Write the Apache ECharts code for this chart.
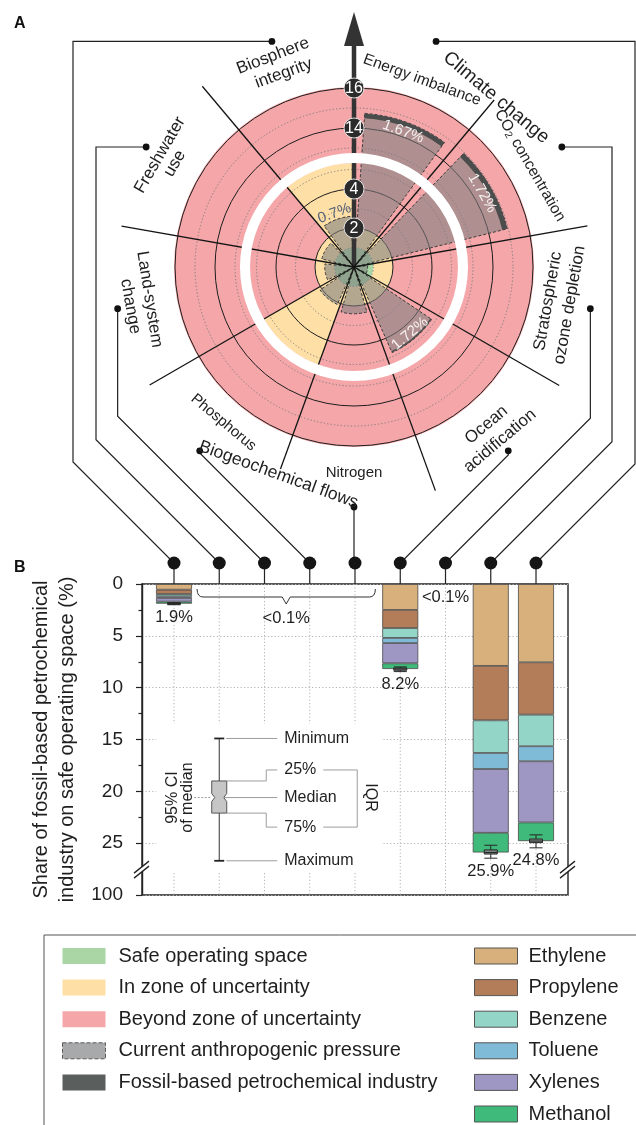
<!DOCTYPE html>
<html>
<head>
<meta charset="utf-8">
<title>Planetary boundaries and the fossil-based petrochemical industry</title>
<script src="https://cdn.jsdelivr.net/npm/echarts@6/dist/echarts.min.js"></script>
<style>
html,body{margin:0;padding:0;background:#ffffff;}
#chart{width:636px;height:1125px;}
</style>
</head>
<body>
<div id="chart"></div>
<script>
// ======================= DATA =======================
// Panel A: planetary-boundary sectors, clockwise from the top (degrees)
const sectorNames = ['Energy imbalance', 'CO2 concentration', 'Stratospheric ozone depletion',
  'Ocean acidification', 'Nitrogen', 'Phosphorus', 'Land-system change', 'Freshwater use',
  'Biosphere integrity'];
const sectorStart = [0, 40, 80, 120, 160, 200, 240, 280, 320];
const sectorWidth = 40;
// normalised control variable (1 = planetary boundary)
const safeLimit        = [1, 1, 1, 1, 1, 1, 1, 1, 1];
const uncertaintyLimit = [2, 2, 2, 2, 2, 5.33, 2, 2, 5.33];
const currentPressure  = [14.75, 14.95, 0.7, 4.8, 2.4, 2.1, 1.5, 1.7, 2.6];
const petroSharePct    = [1.67, 1.72, 0, 1.72, 0, 0, 0, 0, 0.7];
const pressureLabels   = ['1.67%', '1.72%', '', '1.72%', '', '', '', '', '0.7%'];
const radialTickValues = [2, 4, 14, 16];
const gridCircleValues = [1, 2, 3, 4, 5, 13, 14, 15, 16];
const gridCircleSolid  = [false, true, false, true, false, false, true, false, true];
const radialBreak      = [5.33, 12.75];   // hidden stretch of the radial scale
const radialMax        = 16.05;

// Panel B: share of fossil-based petrochemical industry on safe operating space (%)
const barCategories = ['Biosphere integrity', 'Freshwater use', 'Land-system change', 'Phosphorus',
  'Nitrogen', 'Ocean acidification', 'Stratospheric ozone depletion', 'CO2 concentration',
  'Energy imbalance'];
const chemNames = ['Ethylene', 'Propylene', 'Benzene', 'Toluene', 'Xylenes', 'Methanol'];
const ethylene  = [0.55, 0, 0, 0, 0, 2.50, 0, 7.90, 7.55];
const propylene = [0.42, 0, 0, 0, 0, 1.75, 0, 5.25, 5.05];
const benzene   = [0.22, 0, 0, 0, 0, 0.95, 0, 3.15, 3.05];
const toluene   = [0.16, 0, 0, 0, 0, 0.50, 0, 1.55, 1.45];
const xylenes   = [0.35, 0, 0, 0, 0, 1.95, 0, 6.15, 5.90];
const methanol  = [0.20, 0, 0, 0, 0, 0.55, 0, 1.90, 1.80];
// uncertainty of the totals: [min, Q1, median, Q3, max]
const uncertaintyBox = [[1.80, 1.85, 1.90, 1.95, 2.00], null, null, null, null,
  [8.00, 8.10, 8.20, 8.32, 8.45], null,
  [25.20, 25.65, 25.90, 26.05, 26.45], [24.20, 24.60, 24.80, 24.95, 25.45]];
const exampleBox = [14.9, 19.0, 20.6, 22.1, 26.7];   // explanatory box plot
const yTickLabels = ['0', '5', '10', '15', '20', '25', '100'];
const yBreakValue = 27.6;

// ======================= STYLE / LAYOUT =======================
const FONT = '"Liberation Sans", Arial, Helvetica, sans-serif';
const INK = '#1f1f1f';
const chemColors = ['#d8b07b', '#b27d58', '#93d5c6', '#7fbad7', '#9e97c4', '#3fba7a'];
const COL = {safe: '#a9d6a4', unc: '#fedfa6', beyond: '#f4a6a8',
  pressure: 'rgba(125,125,125,0.58)', petro: '#4a4d4c'};
const POLAR_CENTER = [354, 267];
const POLAR_RADIUS = 180;            // px for radius-axis extent [0,180]
const WEDGE_PAD = 4;                 // deg
const ANCHOR_R = 240;
const BOUNDARY_LEN = [0, 218, 237, 237, 238, 215, 236, 236, 236];
const ARROW = {base: 221, tip: 255, half: 10, width: 4.5};
const PLOT = {left: 142, right: 568, top: 584, bottom: 895};
const EDGE_BANDS = 0.707;
const BAND = (PLOT.right - PLOT.left) / (barCategories.length - 1 + 2 * EDGE_BANDS);
const BAR_INSET = (EDGE_BANDS - 0.5) * BAND;
const ROUTE_X = [73, 96, null, null, null, null, null, 612, 635];

// broken radial scale: inner part 0..5.33, outer part 12.75..16
function toR(v) { return v <= 8 ? 19.5 * v : 139 + 20 * (v - 14); }
function dist(p, c) { return Math.hypot(p[0] - c[0], p[1] - c[1]); }
function angOf(api, c, a) { const p = api.coord([100, a]); return Math.atan2(p[1] - c[1], p[0] - c[0]); }
function sectorShape(api, v0, v1, a0, a1) {
  const c = api.coord([0, 0]);
  const r0 = dist(api.coord([toR(v0), a0]), c);
  const r1 = dist(api.coord([toR(v1), a0]), c);
  const s = angOf(api, c, a0);
  let e = angOf(api, c, a1);
  while (e <= s) e += 2 * Math.PI;
  return {cx: c[0], cy: c[1], r0: r0, r: r1, startAngle: s, endAngle: e, clockwise: true};
}
function sideRot(a) { return (a > 90 && a < 270) ? 180 - a : -a; }

const chemValues = [ethylene, propylene, benzene, toluene, xylenes, methanol];
const totals = barCategories.map((c, j) => chemValues.reduce((s, arr) => s + arr[j], 0));

// runs of categories below 0.1 %
const lowRuns = [];
totals.forEach((t, j) => {
  if (t < 0.1) {
    const last = lowRuns[lowRuns.length - 1];
    if (last && last[1] === j - 1) last[1] = j; else lowRuns.push([j, j]);
  }
});

// polar text layout
const polarTexts = [
  {text: 'Biosphere', a: 339, r: 226, size: 17},
  {text: 'integrity', a: 340, r: 206, size: 17},
  {text: 'Climate change', a: 40, r: 221, size: 19},
  {text: 'Energy imbalance', a: 20, r: 199, size: 15.5},
  {rich: true, a: 60, r: 203, size: 15.5},
  {text: 'Stratospheric', a: 100, r: 197, size: 17},
  {text: 'ozone depletion', a: 100, r: 219, size: 17},
  {text: 'Ocean', a: 140, r: 206, size: 17},
  {text: 'acidification', a: 140, r: 227, size: 17},
  {text: 'Nitrogen', a: 180, r: 206, size: 15},
  {text: 'Biogeochemical flows', a: 200, r: 221, size: 17.5},
  {text: 'Phosphorus', a: 220, r: 203, size: 15},
  {text: 'Land-system', a: 261, r: 207, size: 17},
  {text: 'change', a: 260, r: 227, size: 17},
  {text: 'Freshwater', a: 300, r: 224, size: 17},
  {text: 'use', a: 300, r: 207, size: 17}
];
const pressureLabelR = [144, 148, 0, 87, 0, 0, 0, 0, 57];
pressureLabels.forEach((t, i) => {
  if (!t) return;
  polarTexts.push({text: t, a: sectorStart[i] + sectorWidth / 2, r: pressureLabelR[i], size: 15,
    fill: petroSharePct[i] < 1 ? '#56627a' : '#f6f1f1'});
});

// ======================= SERIES =======================
function sectorData() { return sectorStart.map((a, i) => [0, a, i]); }
function zoneSeries(name, color, lo, hi) {
  return {
    type: 'custom', name: name, coordinateSystem: 'polar', z: 1, silent: true,
    itemStyle: {color: color}, data: sectorData(),
    renderItem: function (params, api) {
      const i = api.value(2);
      if (hi[i] <= lo[i]) return null;
      return {type: 'sector', shape: sectorShape(api, lo[i], hi[i], sectorStart[i], sectorStart[i] + sectorWidth),
        style: {fill: color}};
    }
  };
}
const zeros = sectorStart.map(() => 0);
const maxes = sectorStart.map(() => radialMax);

const series = [
  zoneSeries('Safe operating space', COL.safe, zeros, safeLimit),
  zoneSeries('In zone of uncertainty', COL.unc, safeLimit, uncertaintyLimit),
  zoneSeries('Beyond zone of uncertainty', COL.beyond, uncertaintyLimit, maxes),
  { // grid circles
    type: 'custom', coordinateSystem: 'polar', z: 2, silent: true,
    data: gridCircleValues.map((v, i) => [toR(v), 0, i]),
    renderItem: function (params, api) {
      const i = api.value(2);
      const c = api.coord([0, 0]);
      const R = dist(api.coord([api.value(0), 0]), c);
      const solid = gridCircleSolid[i];
      return {type: 'circle', shape: {cx: c[0], cy: c[1], r: R},
        style: {fill: 'none', stroke: solid ? '#1e1e1e' : '#7c7c7c', lineWidth: 1,
          lineDash: solid ? null : [1.2, 2.2]}};
    }
  },
  {
    type: 'custom', name: 'Current anthropogenic pressure', coordinateSystem: 'polar', z: 3, silent: true,
    itemStyle: {color: COL.pressure}, data: sectorData(),
    renderItem: function (params, api) {
      const i = api.value(2);
      if (!(currentPressure[i] > 0)) return null;
      return {type: 'sector',
        shape: sectorShape(api, 0, currentPressure[i], sectorStart[i] + WEDGE_PAD, sectorStart[i] + sectorWidth - WEDGE_PAD),
        style: {fill: COL.pressure, stroke: '#3c3c3c', lineWidth: 1, lineDash: [3, 2]}};
    }
  },
  {
    type: 'custom', name: 'Fossil-based petrochemical industry', coordinateSystem: 'polar', z: 4, silent: true,
    itemStyle: {color: '#5a5e5d'}, data: sectorData(),
    renderItem: function (params, api) {
      const i = api.value(2);
      const s = petroSharePct[i] / 100;
      if (!(s > 0)) return null;
      const P = currentPressure[i];
      return {type: 'sector',
        shape: sectorShape(api, P * (1 - s), P, sectorStart[i] + WEDGE_PAD, sectorStart[i] + sectorWidth - WEDGE_PAD),
        style: {fill: COL.petro}};
    }
  },
  { // sector boundaries + arrow shaft
    type: 'custom', coordinateSystem: 'polar', z: 5, silent: true,
    data: sectorStart.map((a, i) => [i === 0 ? ARROW.base : BOUNDARY_LEN[i], a, i]),
    renderItem: function (params, api) {
      const i = api.value(2);
      const c = api.coord([0, 0]);
      const p = api.coord([api.value(0), api.value(1)]);
      return {type: 'line', shape: {x1: c[0], y1: c[1], x2: p[0], y2: p[1]},
        style: {stroke: i === 0 ? '#333' : '#141414', lineWidth: i === 0 ? ARROW.width : 1.3}};
    }
  },
  { // white gap of the broken radial scale
    type: 'custom', coordinateSystem: 'polar', z: 6, silent: true, data: [[0, 0]],
    renderItem: function (params, api) {
      const c = api.coord([0, 0]);
      return {type: 'ring', shape: {cx: c[0], cy: c[1],
        r0: dist(api.coord([toR(radialBreak[0]), 0]), c), r: dist(api.coord([toR(radialBreak[1]), 0]), c)},
        style: {fill: '#ffffff'}};
    }
  },
  { // arrow head, tick badges, anchor dots
    type: 'custom', coordinateSystem: 'polar', z: 7, silent: true, data: [[0, 0]],
    renderItem: function (params, api) {
      const ch = [];
      const b = api.coord([ARROW.base, 0]), t = api.coord([ARROW.tip, 0]);
      const L = dist(t, b), dx = (t[0] - b[0]) / L, dy = (t[1] - b[1]) / L;
      const nx = -dy * ARROW.half, ny = dx * ARROW.half;
      ch.push({type: 'polygon', shape: {points: [t, [b[0] + nx, b[1] + ny], [b[0] - nx, b[1] - ny]]},
        style: {fill: '#333'}});
      radialTickValues.forEach(v => {
        const p = api.coord([toR(v), 0]);
        ch.push({type: 'circle', shape: {cx: p[0], cy: p[1], r: 10}, style: {fill: '#2b2b2b', stroke: '#ffffff', lineWidth: 0.8}});
        ch.push({type: 'text', x: p[0], y: p[1] + 0.5, style: {text: String(v), fill: '#ffffff', fontSize: 16,
          fontFamily: FONT, align: 'center', verticalAlign: 'middle'}});
      });
      sectorStart.forEach(a => {
        const p = api.coord([ANCHOR_R, a + sectorWidth / 2]);
        ch.push({type: 'circle', shape: {cx: p[0], cy: p[1], r: 3.4}, style: {fill: '#111'}});
      });
      return {type: 'group', children: ch};
    }
  },
  { // polar texts
    type: 'custom', coordinateSystem: 'polar', z: 8, silent: true,
    data: polarTexts.map((t, k) => [t.r, t.a, k]),
    renderItem: function (params, api) {
      const t = polarTexts[api.value(2)];
      const p = api.coord([t.r, t.a]);
      const style = {fill: t.fill || INK, fontSize: t.size, fontFamily: FONT, align: 'center', verticalAlign: 'middle'};
      if (t.rich) {
        style.text = '{n|CO}{s|2}{n| concentration}';
        style.rich = {n: {fontSize: t.size, fontFamily: FONT, fill: INK, lineHeight: 18},
          s: {fontSize: 10.5, fontFamily: FONT, fill: INK, lineHeight: 18, verticalAlign: 'bottom'}};
      } else style.text = t.text;
      return {type: 'text', x: p[0], y: p[1], rotation: sideRot(t.a) * Math.PI / 180, style: style};
    }
  },
  { // vertical dotted grid lines at the categories
    type: 'custom', xAxisIndex: 1, yAxisIndex: 1, z: 1, silent: true,
    data: barCategories.map((c, j) => [j, 0]),
    renderItem: function (params, api) {
      const p0 = api.coord([api.value(0), 0]), p1 = api.coord([api.value(0), 30]);
      return {type: 'line', shape: {x1: p0[0], y1: p0[1], x2: p1[0], y2: p1[1]},
        style: {stroke: '#b3b3b3', lineWidth: 1, lineDash: [1.2, 2.2]}};
    }
  }
];
chemNames.forEach((n, k) => {
  series.push({type: 'bar', name: n, xAxisIndex: 1, yAxisIndex: 1, stack: 'petro', barWidth: 36, z: 2,
    silent: true, itemStyle: {color: chemColors[k], borderColor: '#4a4a4a', borderWidth: 0.8},
    data: chemValues[k].map(v => v > 0 ? v : '-')});
});
series.push({type: 'boxplot', xAxisIndex: 1, yAxisIndex: 1, z: 3, silent: true, boxWidth: [13, 13],
  itemStyle: {color: '#7b8882', borderColor: '#262626', borderWidth: 1},
  data: uncertaintyBox.map(b => b ? b : '-')});
series.push({ // explanatory box plot
  type: 'custom', xAxisIndex: 1, yAxisIndex: 1, z: 2.5, silent: true, data: [[1, exampleBox[2]]],
  renderItem: function (params, api) {
    const x = api.value(0);
    const ys = exampleBox.map(v => api.coord([x, v])[1]);
    const cx = api.coord([x, 0])[0];
    const [yMin, yQ1, yMed, yQ3, yMax] = ys;
    const hw = 7.5, lab = cx + 65, y25 = yQ1 - 11, y75 = yQ3 + 14;
    const grey = {stroke: '#9c9c9c', lineWidth: 1, fill: 'none'};
    const txt = (s, tx, ty, extra) => Object.assign({type: 'text', x: tx, y: ty,
      style: {text: s, fill: INK, fontSize: 16, fontFamily: FONT, align: 'left', verticalAlign: 'middle'}}, extra || {});
    const ch = [
      {type: 'rect', shape: {x: cx - 63, y: yMin - 15, width: 227, height: yMax - yMin + 27}, style: {fill: '#ffffff'}},
      {type: 'line', shape: {x1: cx, y1: yMin, x2: cx, y2: yMax}, style: {stroke: '#333', lineWidth: 1}},
      {type: 'line', shape: {x1: cx - 5, y1: yMin, x2: cx + 5, y2: yMin}, style: {stroke: '#222', lineWidth: 1.8}},
      {type: 'line', shape: {x1: cx - 5, y1: yMax, x2: cx + 5, y2: yMax}, style: {stroke: '#222', lineWidth: 1.8}},
      {type: 'polygon', shape: {points: [[cx - hw, yQ1], [cx + hw, yQ1], [cx + hw, yMed - 4], [cx + hw - 3, yMed],
        [cx + hw, yMed + 4], [cx + hw, yQ3], [cx - hw, yQ3], [cx - hw, yMed + 4], [cx - hw + 3, yMed], [cx - hw, yMed - 4]]},
        style: {fill: '#c6c6c6', stroke: '#555', lineWidth: 1}},
      {type: 'polyline', shape: {points: [[cx + 7, yMin], [cx + 58, yMin]]}, style: grey},
      {type: 'polyline', shape: {points: [[cx + hw, yQ1], [cx + 47, yQ1], [cx + 47, y25], [cx + 58, y25]]}, style: grey},
      {type: 'polyline', shape: {points: [[cx + 4, yMed], [cx + 58, yMed]]}, style: grey},
      {type: 'polyline', shape: {points: [[cx + hw, yQ3], [cx + 47, yQ3], [cx + 47, y75], [cx + 58, y75]]}, style: grey},
      {type: 'polyline', shape: {points: [[cx + 7, yMax], [cx + 58, yMax]]}, style: grey},
      {type: 'polyline', shape: {points: [[cx + 104, y25], [cx + 138, y25], [cx + 138, y75], [cx + 104, y75]]}, style: grey},
      {type: 'polyline', shape: {points: [[cx - 25, yMed], [cx - hw, yMed]]},
        style: {stroke: '#9c9c9c', lineWidth: 1, fill: 'none', lineDash: [2, 1.5]}},
      txt('Minimum', lab, yMin), txt('25%', lab, y25), txt('Median', lab, yMed),
      txt('75%', lab, y75), txt('Maximum', lab, yMax),
      {type: 'text', x: cx + 151, y: yMed, rotation: -Math.PI / 2,
        style: {text: 'IQR', fill: INK, fontSize: 16, fontFamily: FONT, align: 'center', verticalAlign: 'middle'}},
      {type: 'text', x: cx - 39, y: yMed, rotation: Math.PI / 2,
        style: {text: '95% CI\nof median', fill: INK, fontSize: 16, lineHeight: 15, fontFamily: FONT, align: 'center', verticalAlign: 'middle'}}
    ];
    return {type: 'group', children: ch};
  }
});
series.push({ // total labels
  type: 'custom', xAxisIndex: 1, yAxisIndex: 1, z: 4, silent: true,
  data: totals.map((t, j) => [j, t]),
  renderItem: function (params, api) {
    const j = api.value(0), t = api.value(1);
    if (t < 0.1) return null;
    const anchor = uncertaintyBox[j] ? uncertaintyBox[j][4] : t;
    const p = api.coord([j, anchor]);
    return {type: 'text', x: p[0], y: p[1] + 13, style: {text: t.toFixed(1) + '%', fill: INK, fontSize: 16.5,
      fontFamily: FONT, align: 'center', verticalAlign: 'middle'}};
  }
});
series.push({ // below-threshold labels
  type: 'custom', xAxisIndex: 1, yAxisIndex: 1, z: 4, silent: true,
  data: lowRuns,
  renderItem: function (params, api) {
    const j0 = api.value(0), j1 = api.value(1);
    const band = api.size([1, 0])[0];
    const top = api.coord([j0, 0])[1];
    const style = {text: '<0.1%', fill: INK, fontSize: 16.5, fontFamily: FONT, align: 'center', verticalAlign: 'middle'};
    if (j1 === j0) {
      const p = api.coord([j0, 0]);
      return {type: 'text', x: p[0], y: top + 13, style: style};
    }
    const x0 = api.coord([j0, 0])[0] - band * 0.49, x1 = api.coord([j1, 0])[0] + band * 0.45;
    const xc = (x0 + x1) / 2, yT = top + 5, yM = top + 13, yP = top + 20;
    const d = 'M' + x0 + ' ' + yT + ' Q' + x0 + ' ' + yM + ' ' + (x0 + 6) + ' ' + yM + ' L' + (xc - 4) + ' ' + yM +
      ' L' + xc + ' ' + yP + ' L' + (xc + 4) + ' ' + yM + ' L' + (x1 - 6) + ' ' + yM + ' Q' + x1 + ' ' + yM + ' ' + x1 + ' ' + yT;
    return {type: 'group', children: [
      {type: 'path', shape: {pathData: d}, style: {stroke: '#333', lineWidth: 1, fill: 'none'}},
      {type: 'text', x: xc, y: top + 34, style: style}
    ]};
  }
});

const legendText = {fontSize: 20, color: INK, fontFamily: FONT};
const legendBase = {orient: 'vertical', top: 941, height: 184, itemWidth: 43, itemHeight: 16, itemGap: 11.6,
  icon: 'rect', selectedMode: false};
const option = {
  animation: false,
  backgroundColor: '#ffffff',
  textStyle: {fontFamily: FONT},
  polar: {center: POLAR_CENTER, radius: POLAR_RADIUS},
  angleAxis: {type: 'value', min: 0, max: 360, startAngle: 90, clockwise: true, show: false},
  radiusAxis: {type: 'value', min: 0, max: 180, show: false},
  grid: [
    {left: PLOT.left, top: PLOT.top, width: PLOT.right - PLOT.left, height: PLOT.bottom - PLOT.top,
      show: true, borderColor: '#222', borderWidth: 1.4, backgroundColor: 'transparent'},
    {left: PLOT.left + BAR_INSET, top: PLOT.top, width: PLOT.right - PLOT.left - 2 * BAR_INSET,
      height: PLOT.bottom - PLOT.top}
  ],
  xAxis: [
    {gridIndex: 0, type: 'value', min: 0, max: 1, show: false},
    {gridIndex: 1, type: 'category', data: barCategories, boundaryGap: true, show: false}
  ],
  yAxis: [
    {gridIndex: 0, type: 'value', inverse: true, min: 0, max: 30, interval: 5,
      name: 'Share of fossil-based petrochemical\nindustry on safe operating space (%)',
      nameLocation: 'middle', nameRotate: 90, nameGap: 48,
      nameTextStyle: {fontSize: 20, lineHeight: 26, color: INK, fontFamily: FONT},
      axisLine: {show: true, lineStyle: {color: '#222', width: 1.4}},
      axisTick: {show: true, length: 6, lineStyle: {color: '#222', width: 1.2}},
      minorTick: {show: true, splitNumber: 2, length: 3.5, lineStyle: {color: '#222', width: 1.2}},
      axisLabel: {fontSize: 19, color: INK, margin: 19, fontFamily: FONT,
        formatter: v => yTickLabels[Math.round(v / 5)]},
      splitLine: {show: true, lineStyle: {color: '#b3b3b3', width: 1, type: [1.2, 2.2]}}},
    {gridIndex: 1, type: 'value', inverse: true, min: 0, max: 30, show: false}
  ],
  legend: [
    Object.assign({left: 57, textStyle: Object.assign({padding: [0, 0, 0, 8]}, legendText),
      data: [{name: 'Safe operating space'}, {name: 'In zone of uncertainty'}, {name: 'Beyond zone of uncertainty'},
        {name: 'Current anthropogenic pressure', itemStyle: {color: '#a7a9aa', borderColor: '#5a5a5a', borderWidth: 1, borderType: 'dashed'}},
        {name: 'Fossil-based petrochemical industry'}]}, legendBase),
    Object.assign({left: 469, textStyle: Object.assign({padding: [0, 0, 0, 6]}, legendText),
      data: chemNames.map((n, k) => ({name: n, itemStyle: {color: chemColors[k], borderColor: '#555', borderWidth: 1}}))},
      legendBase)
  ],
  series: series
};

const chart = echarts.init(document.getElementById('chart'), null, {renderer: 'canvas'});
chart.setOption(option);

// ---------- connectors, panel letters, axis break, legend frame ----------
const els = [];
els.push({type: 'text', left: 14, top: 16, style: {text: 'A', fontSize: 16, fontWeight: 'bold', fill: '#111', fontFamily: FONT}});
els.push({type: 'text', left: 14, top: 560, style: {text: 'B', fontSize: 16, fontWeight: 'bold', fill: '#111', fontFamily: FONT}});
els.push({type: 'rect', shape: {x: 44, y: 935, width: 640, height: 260}, style: {fill: 'none', stroke: '#555', lineWidth: 1}, z: 0});

const gridTop = chart.convertToPixel({yAxisIndex: 1}, 0);
barCategories.forEach((name, j) => {
  const s = sectorNames.indexOf(name);
  const A = chart.convertToPixel({seriesIndex: 0}, [ANCHOR_R, sectorStart[s] + sectorWidth / 2]);
  const bx = chart.convertToPixel({xAxisIndex: 1}, j);
  const by = gridTop - 21;
  const pts = [A];
  if (ROUTE_X[j] != null) pts.push([ROUTE_X[j], A[1]]);
  const cur = pts[pts.length - 1];
  const dx = Math.abs(bx - cur[0]);
  if (by - dx > cur[1] + 0.5) pts.push([cur[0], by - dx]);
  pts.push([bx, by]);
  pts.push([bx, gridTop]);
  els.push({type: 'polyline', shape: {points: pts}, style: {stroke: '#222', lineWidth: 1.2, fill: 'none'}, z: 5});
  els.push({type: 'circle', shape: {cx: bx, cy: by, r: 6.5}, style: {fill: '#151515'}, z: 6});
});

const yb = chart.convertToPixel({yAxisIndex: 0}, yBreakValue);
[PLOT.left, PLOT.right].forEach(x => {
  els.push({type: 'polygon', shape: {points: [[x - 7, yb + 2], [x + 6, yb - 8], [x + 6, yb - 3], [x - 7, yb + 7]]},
    style: {fill: '#ffffff'}, z: 20});
  els.push({type: 'line', shape: {x1: x - 8, y1: yb + 3, x2: x + 7, y2: yb - 9}, style: {stroke: '#222', lineWidth: 1.3}, z: 21});
  els.push({type: 'line', shape: {x1: x - 8, y1: yb + 8, x2: x + 7, y2: yb - 4}, style: {stroke: '#222', lineWidth: 1.3}, z: 21});
});
chart.setOption({graphic: {elements: els}});
</script>
</body>
</html>
